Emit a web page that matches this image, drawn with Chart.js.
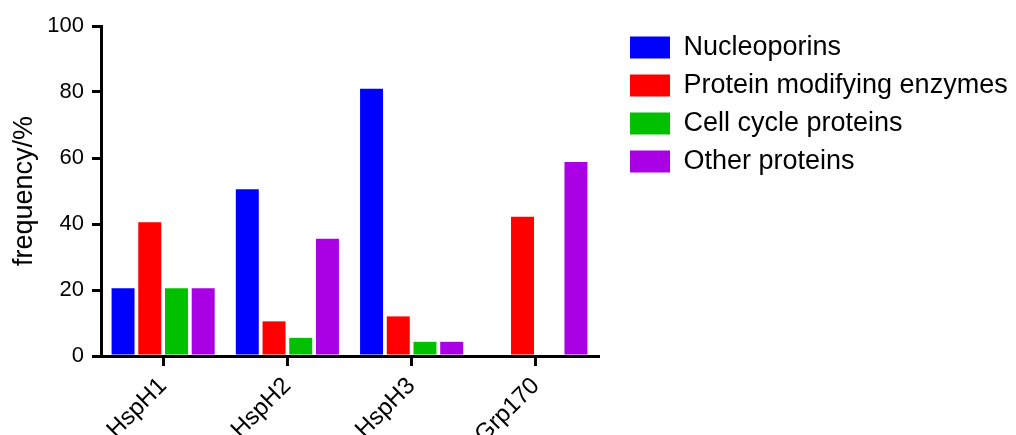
<!DOCTYPE html>
<html>
<head>
<meta charset="utf-8">
<script src="https://cdn.jsdelivr.net/npm/chart.js@4"></script>
<style>
  html, body { margin: 0; padding: 0; background: #fff; }
  #wrap { width: 1016px; height: 435px; }
</style>
</head>
<body>
<div id="wrap"><canvas id="chart1"></canvas></div>
<script>
const labels = ['HspH1', 'HspH2', 'HspH3', 'Grp170'];
const nucleoporins = [20.5, 50.5, 81, 0];
const modifyingEnzymes = [40.5, 10.5, 12, 42.2];
const cellCycle = [20.5, 5.5, 4.3, 0];
const otherProteins = [20.5, 35.5, 4.3, 58.8];
const yTicks = [0, 20, 40, 60, 80, 100];

const fam = 'Liberation Sans, Arial, sans-serif';
const tickFont = { family: fam, size: 22 };
const xFont = { family: fam, size: 24 };
const bigFont = { family: fam, size: 27 };
Chart.defaults.font = tickFont;
Chart.defaults.color = '#000';

// legend sits a bit away from the plot in the original
const legendShift = {
  id: 'legendShift',
  afterLayout(chart) {
    chart.legend.left += 21;
    chart.legend.right += 21;
  }
};

const ctx = document.getElementById('chart1');

new Chart(ctx, {
  type: 'bar',
  data: {
    labels: labels,
    datasets: [
      { label: 'Nucleoporins', data: nucleoporins, backgroundColor: '#0000FF' },
      { label: 'Protein modifying enzymes', data: modifyingEnzymes, backgroundColor: '#FF0000' },
      { label: 'Cell cycle proteins', data: cellCycle, backgroundColor: '#00C000' },
      { label: 'Other proteins', data: otherProteins, backgroundColor: '#AA00E6' }
    ]
  },
  plugins: [legendShift],
  options: {
    responsive: true,
    maintainAspectRatio: false,
    animation: false,
    categoryPercentage: 0.86,
    barPercentage: 0.86,
    layout: { padding: { top: 23, left: 0, right: 0, bottom: 0 } },
    plugins: {
      legend: {
        position: 'right',
        align: 'start',
        maxWidth: 500,
        labels: { boxWidth: 40, boxHeight: 22, padding: 11, font: bigFont, color: '#000' }
      },
      tooltip: { enabled: false }
    },
    scales: {
      x: {
        grid: { offset: false, drawOnChartArea: false, color: '#000', lineWidth: 3, tickLength: 10 },
        border: { color: '#000', width: 3 },
        ticks: { maxRotation: 45, minRotation: 45, font: xFont, color: '#000', padding: 6 },
        afterFit: (scale) => {
          scale.height = 79;
          // keep the plot area ending near x=598, left of the legend
          scale.paddingRight = 418;
        }
      },
      y: {
        min: 0,
        max: 100,
        afterBuildTicks: (scale) => { scale.ticks = yTicks.map(v => ({ value: v })); },
        grid: { drawOnChartArea: false, color: '#000', lineWidth: 3, tickLength: 9 },
        border: { color: '#000', width: 3 },
        ticks: { font: tickFont, color: '#000', padding: 8 },
        title: { display: true, text: 'frequency/%', font: bigFont, color: '#000', padding: { top: 8, bottom: 0 } },
        afterFit: (scale) => {
          scale.width = 101;
          scale.paddingTop = 26;
        }
      }
    }
  }
});
</script>
</body>
</html>
